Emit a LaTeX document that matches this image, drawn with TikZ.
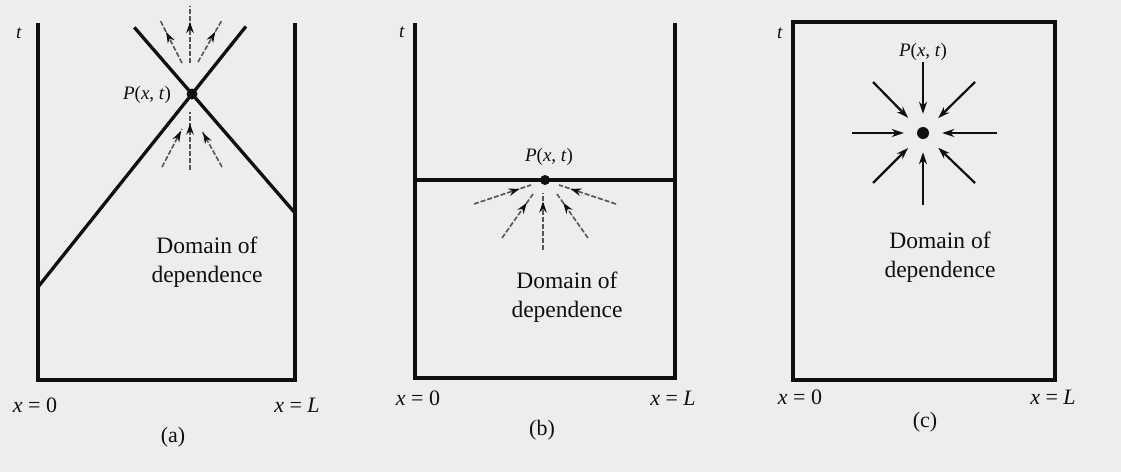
\documentclass[tikz,border=0pt]{standalone}
\usepackage{fontspec}
\setmainfont{Liberation Serif}
\usetikzlibrary{arrows.meta,decorations.markings,calc}
\definecolor{bg}{RGB}{237,237,237}
\definecolor{ink}{RGB}{15,15,15}
\definecolor{raygray}{RGB}{85,85,85}
\begin{document}
\begin{tikzpicture}[x=1pt,y=-1pt,
  frame/.style={line width=3.3pt, draw=ink, line join=miter},
  thickframe/.style={line width=4.8pt, draw=ink},
  lbl/.style={font=\fontsize{22}{26}\selectfont, inner sep=0pt, text=ink},
  plbl/.style={font=\fontsize{19}{23}\selectfont, inner sep=0pt, text=ink},
  dom/.style={font=\fontsize{23.5}{29}\selectfont, align=center, inner sep=0pt, text=ink},
  ray/.style={draw=raygray, line width=1.6pt, dash pattern=on 5pt off 2pt},
  midhead/.style={postaction={decorate}, decoration={markings,
     mark=at position #1 with {\arrow[ink]{Stealth[length=11pt,width=7.5pt]}}}},
  cray/.style={draw=ink, line width=2.2pt, -{Stealth[length=12pt,width=8pt]}, shorten >=13pt},
  dot/.style={circle, fill=ink, inner sep=0pt}]
\useasboundingbox (0,0) rectangle (1121,472);
\fill[bg] (0,0) rectangle (1121,472);

% ---------------- (a) ----------------
\coordinate (aTL) at (38,23);
\coordinate (aBL) at (38,380);
\coordinate (aBR) at (295,380);
\coordinate (aTR) at (295,23);
\node[dot, minimum size=11pt] (aP) at (192,94) {};
\coordinate (aLs) at (38,287);
\coordinate (aRs) at (295,213);
\coordinate (aLe) at ($(aLs)!1.35!(aP)$);
\coordinate (aRe) at ($(aRs)!1.56!(aP)$);
\draw[frame] (aTL) -- (aBL) -- (aBR) -- (aTR);
\draw[frame] (aLs) -- (aLe);
\draw[frame] (aRs) -- (aRe);
% outgoing rays above P
\coordinate (aU0s) at (190,63); \coordinate (aU0e) at (190,6);
\coordinate (aU1s) at (182,63); \coordinate (aU1e) at (160,20);
\coordinate (aU2s) at (198,62); \coordinate (aU2e) at (222,20);
\draw[ray, midhead=0.72] (aU0s) -- (aU0e);
\draw[ray, midhead=0.72] (aU1s) -- (aU1e);
\draw[ray, midhead=0.72] (aU2s) -- (aU2e);
% incoming rays below P
\coordinate (aD0s) at (190,170); \coordinate (aD0e) at (190,112);
\coordinate (aD1s) at (162,167); \coordinate (aD1e) at (182,129);
\coordinate (aD2s) at (222,167); \coordinate (aD2e) at (202,131);
\draw[ray, midhead=0.8] (aD0s) -- (aD0e);
\draw[ray, midhead=0.95] (aD1s) -- (aD1e);
\draw[ray, midhead=0.95] (aD2s) -- (aD2e);
\node[plbl] (aPl) at (147,95) {\textit{P}(\textit{x}, \textit{t})};
\node[plbl] (at) at (19,33) {\textit{t}};
\node[dom] (adom) at (207,262) {Domain of\\dependence};
\node[lbl] (ax0) at (35,405) {\textit{x} = 0};
\node[lbl] (axL) at (297,405) {\textit{x} = \textit{L}};
\node[lbl] (acap) at (173,437) {(a)};

% ---------------- (b) ----------------
\coordinate (bTL) at (415,23);
\coordinate (bBL) at (415,378);
\coordinate (bBR) at (675,378);
\coordinate (bTR) at (675,23);
\coordinate (bHL) at (415,180);
\coordinate (bHR) at (675,180);
\draw[frame] (bTL) -- (bBL) -- (bBR) -- (bTR);
\draw[frame] (bHL) -- (bHR);
\node[dot, minimum size=10pt] (bP) at (545,180) {};
\coordinate (bR1s) at (474,204); \coordinate (bR1e) at (531,185);
\coordinate (bR2s) at (616,204); \coordinate (bR2e) at (559,185);
\coordinate (bR3s) at (502,238); \coordinate (bR3e) at (533,194);
\coordinate (bR4s) at (588,238); \coordinate (bR4e) at (557,194);
\coordinate (bR5s) at (543,250); \coordinate (bR5e) at (543,193);
\draw[ray, midhead=0.8] (bR1s) -- (bR1e);
\draw[ray, midhead=0.8] (bR2s) -- (bR2e);
\draw[ray, midhead=0.8] (bR3s) -- (bR3e);
\draw[ray, midhead=0.8] (bR4s) -- (bR4e);
\draw[ray, midhead=0.85] (bR5s) -- (bR5e);
\node[plbl] (bPl) at (549,157) {\textit{P}(\textit{x}, \textit{t})};
\node[plbl] (bt) at (402,32) {\textit{t}};
\node[dom] (bdom) at (567,297) {Domain of\\dependence};
\node[lbl] (bx0) at (418,398) {\textit{x} = 0};
\node[lbl] (bxL) at (673,398) {\textit{x} = \textit{L}};
\node[lbl] (bcap) at (542,430) {(b)};

% ---------------- (c) ----------------
\draw[thickframe] (793,22) rectangle (1055,380);
\node[dot, minimum size=12pt] (cP) at (923,133) {};
\coordinate (cN)  at (923,62);
\coordinate (cS)  at (923,205);
\coordinate (cW)  at (852,133);
\coordinate (cE)  at (997,133);
\coordinate (cNW) at (873,82);
\coordinate (cNE) at (975,82);
\coordinate (cSW) at (873,183);
\coordinate (cSE) at (975,183);
\foreach \c in {cN,cS,cW,cE}
  \draw[cray] (\c) -- (cP);
\foreach \c in {cNW,cNE,cSW,cSE}
  \draw[cray, shorten >=15pt] (\c) -- (cP);
\node[plbl] (cPl) at (923,52) {\textit{P}(\textit{x}, \textit{t})};
\node[plbl] (ct) at (780,33) {\textit{t}};
\node[dom] (cdom) at (940,257) {Domain of\\dependence};
\node[lbl] (cx0) at (800,397) {\textit{x} = 0};
\node[lbl] (cxL) at (1053,397) {\textit{x} = \textit{L}};
\node[lbl] (ccap) at (925,422) {(c)};
\end{tikzpicture}
\end{document}
